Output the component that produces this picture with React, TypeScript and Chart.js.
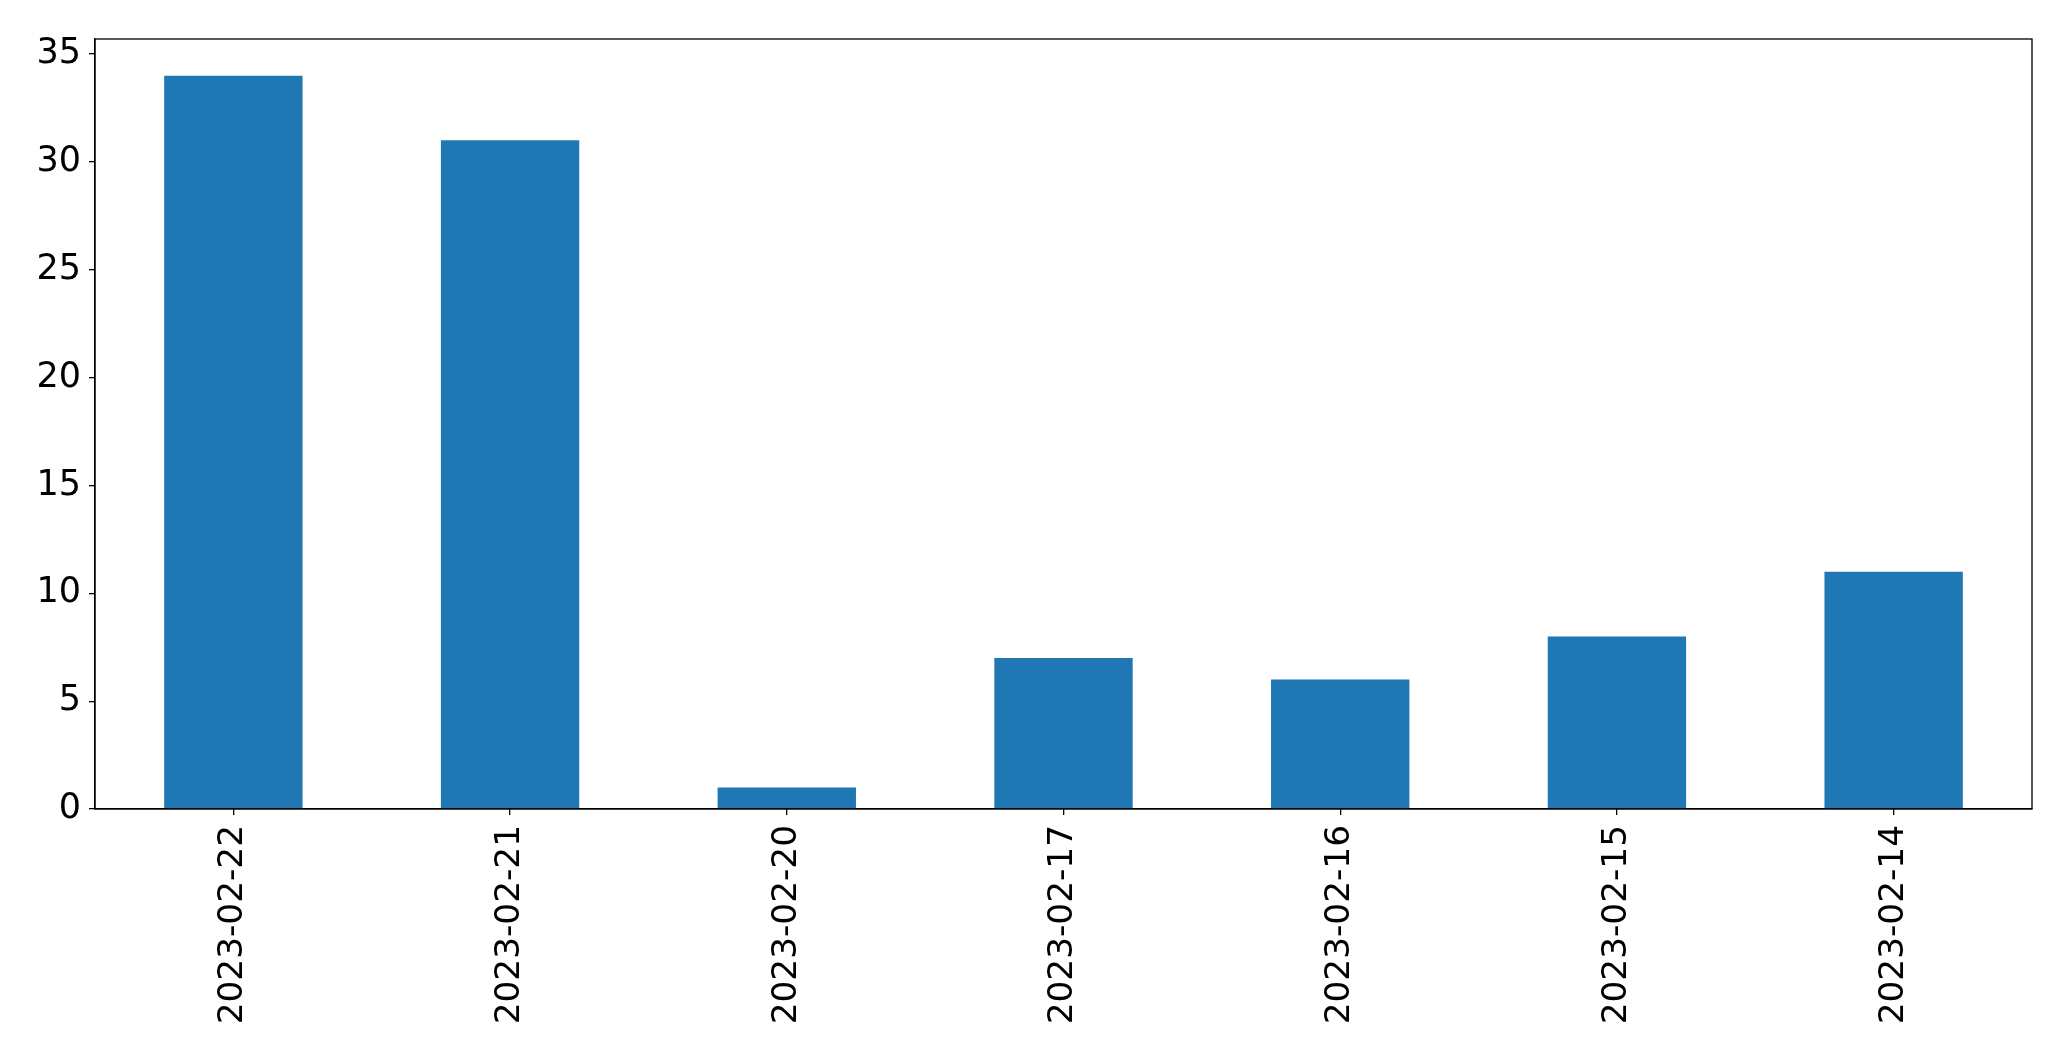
import React, { useEffect, useRef } from "react";
import { Chart, registerables } from "chart.js";

Chart.register(...registerables);

const categories = ["2023-02-22", "2023-02-21", "2023-02-20", "2023-02-17", "2023-02-16", "2023-02-15", "2023-02-14"];
const values = [34, 31, 1, 7, 6, 8, 11];
const yTicks = [0, 5, 10, 15, 20, 25, 30, 35];

const W = 2071;
const H = 1061;
const PLOT_LEFT = 95;
const PLOT_TOP = 39;
const PLOT_RIGHT = 2032;
const PLOT_BOTTOM = 809;
const FONT = "'DejaVu Sans', sans-serif";

const framePlugin = {
  id: "frame",
  afterDraw(chart: any) {
    const { ctx, chartArea } = chart;
    ctx.save();
    ctx.strokeStyle = "#000";
    ctx.lineWidth = 1.3;
    ctx.strokeRect(chartArea.left, chartArea.top, chartArea.right - chartArea.left, chartArea.bottom - chartArea.top);
    ctx.restore();
  },
};

export default function App() {
  const ref = useRef<HTMLCanvasElement | null>(null);
  useEffect(() => {
    document.body.style.margin = "0";
    const chart = new Chart(ref.current as HTMLCanvasElement, {
      type: "bar",
      data: {
        labels: categories,
        datasets: [
          {
            data: values,
            backgroundColor: "#1f77b4",
            barPercentage: 0.5,
            categoryPercentage: 1,
          },
        ],
      },
      options: {
        animation: false,
        responsive: false,
        maintainAspectRatio: false,
        layout: {
          padding: { left: 0, top: PLOT_TOP, right: W - PLOT_RIGHT, bottom: 0 },
        },
        plugins: { legend: { display: false }, tooltip: { enabled: false } },
        scales: {
          x: {
            offset: true,
            grid: { offset: false, drawOnChartArea: false, drawTicks: true, tickLength: 6, color: "#000", lineWidth: 1.3 },
            border: { display: true, color: "#000", width: 1.3 },
            ticks: {
              font: { family: FONT, size: 34.3 },
              color: "#000",
              maxRotation: 90,
              minRotation: 90,
              padding: 10,
              autoSkip: false,
            },
            afterFit: (s: any) => {
              s.height = H - PLOT_BOTTOM;
            },
          },
          y: {
            min: 0,
            max: 35.7,
            afterBuildTicks: (s: any) => {
              s.ticks = yTicks.map((v) => ({ value: v }));
            },
            grid: { drawOnChartArea: false, drawTicks: true, tickLength: 6, color: "#000", lineWidth: 1.3 },
            border: { display: true, color: "#000", width: 1.3 },
            ticks: {
              font: { family: FONT, size: 35 },
              color: "#000",
              padding: 8,
            },
            afterFit: (s: any) => {
              s.width = PLOT_LEFT;
            },
          },
        },
      },
      plugins: [framePlugin],
    });
    return () => chart.destroy();
  }, []);
  return (
    <div style={{ position: "fixed", left: 0, top: 0, width: W, height: H, background: "#fff" }}>
      <canvas ref={ref} width={W} height={H} style={{ width: W, height: H }} />
    </div>
  );
}
